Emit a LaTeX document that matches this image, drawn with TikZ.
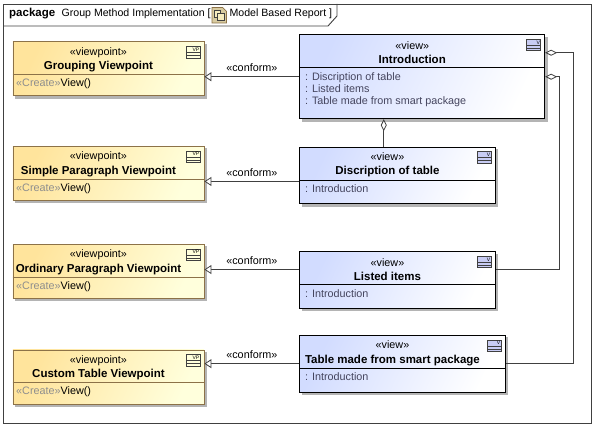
\documentclass[tikz,border=0pt]{standalone}
\usepackage{fontspec}
\setmainfont{Liberation Sans}
\usepackage{xcolor}
\usetikzlibrary{arrows.meta,positioning,backgrounds,calc}
\definecolor{umlline}{HTML}{404040}
\definecolor{vpline}{HTML}{8C7248}
\definecolor{vpdark}{HTML}{FFE49C}
\definecolor{vplight}{HTML}{FFFFDC}
\definecolor{viewdark}{HTML}{D2DCFF}
\definecolor{viewlight}{HTML}{FFFFFF}
\definecolor{softgray}{HTML}{8E8E8E}
\definecolor{bodyink}{HTML}{45455E}
\definecolor{shadowgray}{HTML}{B4B4B4}
\definecolor{icontan}{HTML}{D8CBA0}
\definecolor{iconpale}{HTML}{F6ECBE}
\definecolor{iconview}{HTML}{C8CCF4}
\tikzset{
  umlbox/.style={rectangle, anchor=north west, inner sep=0pt, line width=0.9pt},
  vpbox/.style={umlbox, draw=vpline, left color=vpdark, right color=vplight, shading angle=65, minimum width=191pt, minimum height=54pt},
  viewbox/.style={umlbox, draw=black, left color=viewdark, right color=viewlight, shading angle=65, minimum height=56.6pt},
  shadowbox/.style={fill=shadowgray, draw=none},
  headtext/.style={inner sep=0pt, minimum height=30pt, align=center, font=\fontsize{10.8}{14.5}\selectfont},
  bodytext/.style={inner sep=0pt, anchor=north west, align=left, text=bodyink, font=\fontsize{10.8}{12}\selectfont},
  labeltext/.style={inner sep=0pt, font=\fontsize{10.8}{12}\selectfont},
  tabtext/.style={inner sep=0pt, anchor=west, font=\fontsize{10.6}{12}\selectfont},
  tagtext/.style={inner sep=0pt, font=\fontsize{5}{5}\selectfont},
  conformedge/.style={-{Triangle[open, fill=white, length=7pt, width=9pt]}, line width=0.8pt, draw=umlline},
  partedge/.style={{Diamond[open, fill=white, length=12pt, width=6pt]}-, line width=0.8pt, draw=umlline},
  pics/umlicon/.style={code={
    \draw[draw=umlline, fill=#1, line width=0.7pt] (-18.5,-5) rectangle (-4.5,-16.5);
    \draw[draw=umlline, line width=0.7pt] (-18.5,-11) -- (-4.5,-11) (-18.5,-14) -- (-4.5,-14);
  }}
}
\newcommand{\titleline}[1]{{\fontsize{11.5}{14.5}\selectfont\bfseries #1}}
\begin{document}
\begin{tikzpicture}[x=1pt, y=1pt]
  \useasboundingbox (0,0) rectangle (596,-427);
  \node[draw=umlline, line width=0.9pt, anchor=north west, inner sep=0pt, minimum width=588pt, minimum height=419pt] (frame) at (3,-4) {};
  \coordinate (tabcorner) at ($(frame.north west)+(334,0)$);
  \coordinate (tabfoot) at ($(frame.north west)+(0,-22)$);
  \coordinate (tabstart) at ($(frame.north west)+(0,-9.5)$);
  \draw[draw=umlline, line width=0.9pt] (tabfoot) -- ($(tabfoot)+(325,0)$) -- ($(tabcorner)+(0,-12)$) -- (tabcorner);
  \node[tabtext, right=6pt of tabstart] (tabkind) {\titleline{package}};
  \node[tabtext, right=6pt of tabkind] (tabname) {Group Method Implementation [};
  \node[tabtext, right=18.5pt of tabname] (tabmodel) {Model Based Report ]};
  \draw[draw=vpline, fill=icontan, line width=0.7pt] (212,-7.5) -- (222.5,-7.5) -- (226.5,-11.5) -- (226.5,-23) -- (212,-23) -- cycle;
  \draw[draw=umlline, fill=iconpale, line width=0.7pt] (214.5,-10) rectangle (220.5,-17);
  \draw[draw=umlline, fill=iconpale, line width=0.7pt] (217.5,-13.5) rectangle (224,-20);

  \node[vpbox, below right=37.5pt and 9.5pt of frame.north west] (grouping) {};
  \node[vpbox, below=49.6pt of grouping.south west, anchor=north west] (simple) {};
  \node[vpbox, below=43.1pt of simple.south west, anchor=north west] (ordinary) {};
  \node[vpbox, below=50.6pt of ordinary.south west, anchor=north west] (custom) {};
  \node[viewbox, below right=30.3pt and 296.3pt of frame.north west, minimum width=245pt, minimum height=84pt] (intro) {};
  \node[viewbox, below=27.5pt of intro.south west, anchor=north west, minimum width=195.4pt] (disc) {};
  \node[viewbox, below=47.1pt of disc.south west, anchor=north west, minimum width=195.4pt] (listed) {};
  \node[viewbox, below=26.1pt of listed.south west, anchor=north west, minimum width=205.4pt] (smart) {};

  \node[headtext, below=3pt of grouping.north, xshift=-10pt] (grouping-head) {«viewpoint»\\\titleline{Grouping Viewpoint}};
  \node[headtext, below=3pt of simple.north, xshift=-10pt] (simple-head) {«viewpoint»\\\titleline{Simple Paragraph Viewpoint}};
  \node[headtext, below=3pt of ordinary.north, xshift=-10pt] (ordinary-head) {«viewpoint»\\\titleline{Ordinary Paragraph Viewpoint}};
  \node[headtext, below=3pt of custom.north, xshift=-10pt] (custom-head) {«viewpoint»\\\titleline{Custom Table Viewpoint}};
  \node[headtext, below=3pt of intro.north, xshift=-10pt] (intro-head) {«view»\\\titleline{Introduction}};
  \node[headtext, below=3pt of disc.north, xshift=-10pt] (disc-head) {«view»\\\titleline{Discription of table}};
  \node[headtext, below=3pt of listed.north, xshift=-10pt] (listed-head) {«view»\\\titleline{Listed items}};
  \node[headtext, below=3pt of smart.north, xshift=-10pt] (smart-head) {«view»\\\titleline{Table made from smart package}};

  \foreach \boxname in {grouping,simple,ordinary,custom}{
    \scoped[on background layer] \fill[shadowbox] ([shift={(2.5,-2.5)}]\boxname.north west) rectangle ([shift={(2.5,-2.5)}]\boxname.south east);
    \draw[draw=vpline, line width=0.9pt] (\boxname.west |- \boxname-head.south) -- (\boxname.east |- \boxname-head.south);
    \node[bodytext, xshift=3.5pt, yshift=-4pt] (\boxname-body) at (\boxname.west |- \boxname-head.south) {\textcolor{softgray}{«Create»}\textcolor{black}{View()}};
    \pic at (\boxname.north east) {umlicon=vplight};
    \node[tagtext] (\boxname-tag) at ([xshift=-8.5pt,yshift=-8pt]\boxname.north east) {VP};
  }
  \foreach \boxname/\parts in {intro/{: Discription of table\\: Listed items\\: Table made from smart package},disc/{: Introduction},listed/{: Introduction},smart/{: Introduction}}{
    \scoped[on background layer] \fill[shadowbox] ([shift={(2.5,-2.5)}]\boxname.north west) rectangle ([shift={(2.5,-2.5)}]\boxname.south east);
    \draw[draw=black, line width=0.9pt] (\boxname.west |- \boxname-head.south) -- (\boxname.east |- \boxname-head.south);
    \node[bodytext, xshift=5.5pt, yshift=-4.5pt] (\boxname-body) at (\boxname.west |- \boxname-head.south) {\parts};
    \pic at (\boxname.north east) {umlicon=iconview};
    \node[tagtext] (\boxname-tag) at ([xshift=-7pt,yshift=-8pt]\boxname.north east) {V};
  }

  \draw[conformedge] (intro.west) -- (intro.west -| grouping.east) node[labeltext, midway, above=4.5pt] (introlabel) {«conform»};
  \draw[conformedge] ([yshift=-6pt]disc.west) -- ([yshift=-6pt]disc.west -| simple.east) node[labeltext, midway, above=4.5pt] (disclabel) {«conform»};
  \draw[conformedge] ([yshift=10.5pt]listed.west) -- ([yshift=10.5pt]listed.west -| ordinary.east) node[labeltext, midway, above=4.5pt] (listedlabel) {«conform»};
  \draw[conformedge] (smart.west) -- (smart.west -| custom.east) node[labeltext, midway, above=4.5pt] (smartlabel) {«conform»};
  \draw[partedge] ([xshift=-13.7pt]disc.north |- intro.south) -- ([xshift=-13.7pt]disc.north);
  \draw[partedge] (intro.east) -- ++(14,0) |- ([yshift=10.5pt]listed.east);
  \draw[partedge] ([yshift=24pt]intro.east) -- ++(28.4,0) |- (smart.east);
\end{tikzpicture}
\end{document}
